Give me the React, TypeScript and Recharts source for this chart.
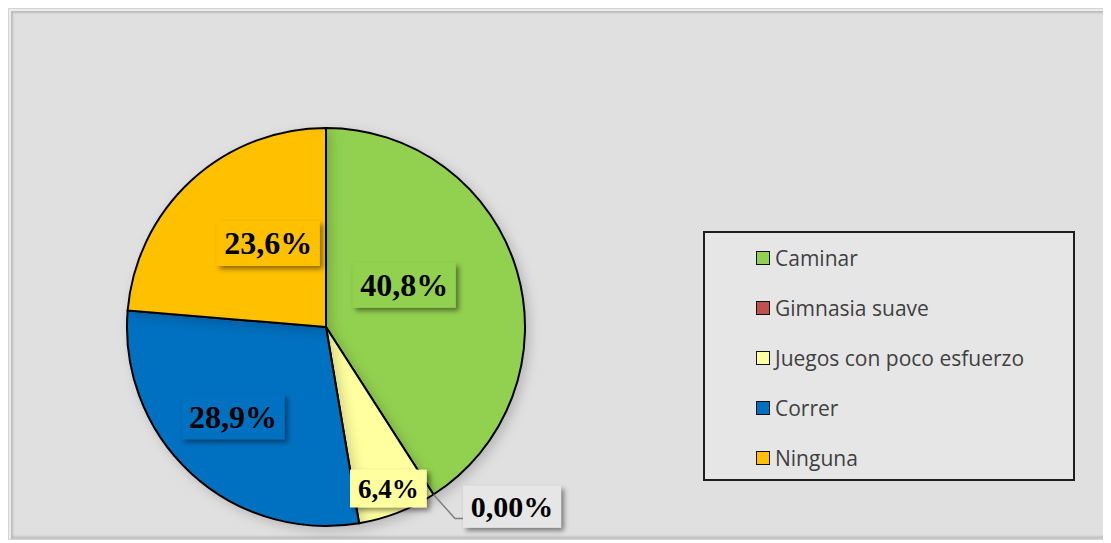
import React from 'react';
import { PieChart, Pie, Cell, Legend } from 'recharts';

const categories = ['Caminar', 'Gimnasia suave', 'Juegos con poco esfuerzo', 'Correr', 'Ninguna'];
const values = [40.8, 0, 6.4, 28.9, 23.6];
const labelTexts = ['40,8%', '0,00%', '6,4%', '28,9%', '23,6%'];
const colors = ['#92D050', '#C0504D', '#FFFF9F', '#0070C0', '#FFC000'];

// label placement (radius fraction, clockwise angle shift in degrees, font size)
const labelRadius = [0.445, 1.3, 0.87, 0.65, 0.51];
const labelShift = [-11.7, -13.3, 0, 3.4, 7.9];
const labelFont = [32, 30, 27, 32, 32];

const data = categories.map((name, i) => ({ name, value: values[i] }));

const RAD = Math.PI / 180;

const textWidth = (s: string, fs: number) => {
  let w = 0;
  for (const ch of s) {
    if (ch === ',') w += 0.25;
    else if (ch === '%') w += 0.85;
    else w += 0.5;
  }
  return w * fs;
};

const renderLabel = (props: any) => {
  const { cx, cy, midAngle, outerRadius, index } = props;
  const ang = (midAngle - labelShift[index]) * RAD;
  const R = outerRadius * labelRadius[index];
  const x = cx + R * Math.cos(ang);
  const y = cy - R * Math.sin(ang);
  const fs = labelFont[index];
  const txt = labelTexts[index];
  const w = textWidth(txt, fs) + 20;
  const h = fs * 1.4;
  const outside = labelRadius[index] > 1;
  const fill = outside ? '#e6e6e6' : colors[index];
  let leader = null;
  if (outside) {
    const ma = midAngle * RAD;
    const sx = cx + outerRadius * Math.cos(ma);
    const sy = cy - outerRadius * Math.sin(ma);
    const ly = y + h * 0.28;
    const lx = x - w / 2;
    leader = (
      <polyline
        points={`${sx},${sy} ${lx - 8},${ly} ${lx},${ly}`}
        fill="none"
        stroke="#7f7f7f"
        strokeWidth={1.5}
      />
    );
  }
  return (
    <g key={`lbl-${index}`}>
      {leader}
      <rect x={x - w / 2} y={y - h / 2} width={w} height={h} fill={fill} filter="url(#lblShadow)" />
      <text
        x={x}
        y={y}
        dy={fs * 0.34}
        textAnchor="middle"
        fontFamily="'Liberation Serif', 'Times New Roman', serif"
        fontWeight="bold"
        fontSize={fs}
        fill="#000"
      >
        {txt}
      </text>
    </g>
  );
};

const renderLegend = () => (
  <div
    style={{
      width: 368,
      height: 246,
      border: '2px solid #1e1e1e',
      background: '#e6e6e6',
      boxSizing: 'content-box',
      position: 'relative',
      fontFamily: "'Open Sans', sans-serif",
      fontSize: 21,
      color: '#404040',
    }}
  >
    {categories.map((c, i) => (
      <div
        key={c}
        style={{
          position: 'absolute',
          left: 51,
          top: 10 + i * 50,
          height: 30,
          display: 'flex',
          alignItems: 'center',
          whiteSpace: 'nowrap',
        }}
      >
        <span
          style={{
            display: 'inline-block',
            width: 12,
            height: 12,
            background: colors[i],
            border: '1.5px solid #111',
            marginRight: 5,
          }}
        />
        <span>{c}</span>
      </div>
    ))}
  </div>
);

export default function App() {
  return (
    <div
      style={{
        width: 1099,
        height: 530,
        background: '#e0e0e0',
        border: '1px solid #d4d4d4',
        boxShadow: 'inset 2px 2px 0 #ececec, inset 4px 4px 2px #bdbdbd, inset -2px -3px 2px #c4c4c4',
        position: 'relative',
      }}
    >
      <PieChart width={1099} height={530} style={{ position: 'absolute', left: 0, top: 0 }}>
        <defs>
          <filter id="lblShadow" x="-20%" y="-30%" width="150%" height="180%">
            <feDropShadow dx="3" dy="3" stdDeviation="2.5" floodColor="#000" floodOpacity="0.45" />
          </filter>
          <filter id="pieShadow" x="-20%" y="-20%" width="150%" height="150%">
            <feDropShadow dx="4" dy="4" stdDeviation="6" floodColor="#000" floodOpacity="0.18" />
          </filter>
        </defs>
        <Pie
          data={data}
          dataKey="value"
          nameKey="name"
          cx={312}
          cy={313}
          outerRadius={199}
          startAngle={90}
          endAngle={-270}
          stroke="#000"
          strokeWidth={2}
          label={renderLabel}
          labelLine={false}
          isAnimationActive={false}
          style={{ filter: 'url(#pieShadow)' }}
        >
          {data.map((d, i) => (
            <Cell key={d.name} fill={colors[i]} />
          ))}
        </Pie>
        <Legend
          content={renderLegend}
          wrapperStyle={{ position: 'absolute', left: 694, top: 222, width: 372, height: 250 }}
        />
      </PieChart>
    </div>
  );
}
